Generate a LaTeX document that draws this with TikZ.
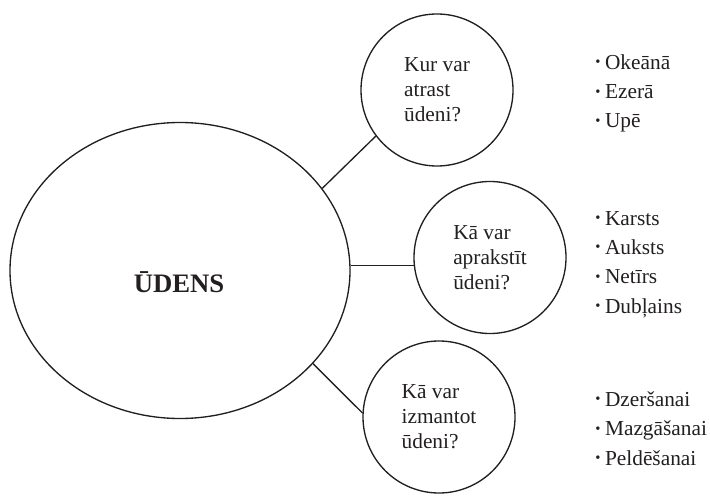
\documentclass[tikz,border=0pt]{standalone}
\usepackage{fontspec}
\setmainfont{Liberation Serif}
\usetikzlibrary{shapes.geometric}
\definecolor{ink}{RGB}{35,31,32}
\tikzset{
  topic/.style={draw=ink, line width=1pt, circle, minimum size=114pt, inner sep=0pt,
    align=left, text=ink, font=\fontsize{16}{18.75}\selectfont},
  answers/.style={anchor=base west, align=left, inner sep=0pt, text=ink,
    font=\fontsize{16}{22}\selectfont},
  link/.style={draw=ink, line width=1pt}
}
\newcommand{\bul}{\raisebox{0.12em}{\fontsize{11}{11}\selectfont\textbullet}\hspace{3.5pt}}
\begin{document}
\begin{tikzpicture}[x=0.75pt,y=-0.75pt]
      \useasboundingbox (0,0) rectangle (710,499);
      \node [draw=ink,line width=1pt,ellipse,minimum width=255pt,minimum height=222pt,inner sep=0pt] (big) at (180,270.5) {};
      \node [anchor=base,text=ink,font=\fontsize{20}{24}\selectfont\bfseries] (udens) at (179,292) {ŪDENS};
      \node [topic] (where) at (437,90) {Kur var\\atrast\\ūdeni?};
      \node [topic] (how) at (490,257.5) {Kā var\\aprakstīt\\ūdeni?};
      \node [topic] (use) at (439,417) {Kā var\\izmantot\\ūdeni?};
      % last line sits on the given point
      \node [answers] (wherelist) at (595,128) {\bul Okeānā\\\bul Ezerā\\\bul Upē};
      \node [answers] (howlist) at (595,313) {\bul Karsts\\\bul Auksts\\\bul Netīrs\\\bul Dubļains};
      \node [answers] (uselist) at (595,465) {\bul Dzeršanai\\\bul Mazgāšanai\\\bul Peldēšanai};
      \draw [link] (big.30) -- (where.217);
      \draw [link] (how.186) -- (how.186 -| big.east);
      \draw [link] (big.-35) -- (use.177);
    \end{tikzpicture}
\end{document}
